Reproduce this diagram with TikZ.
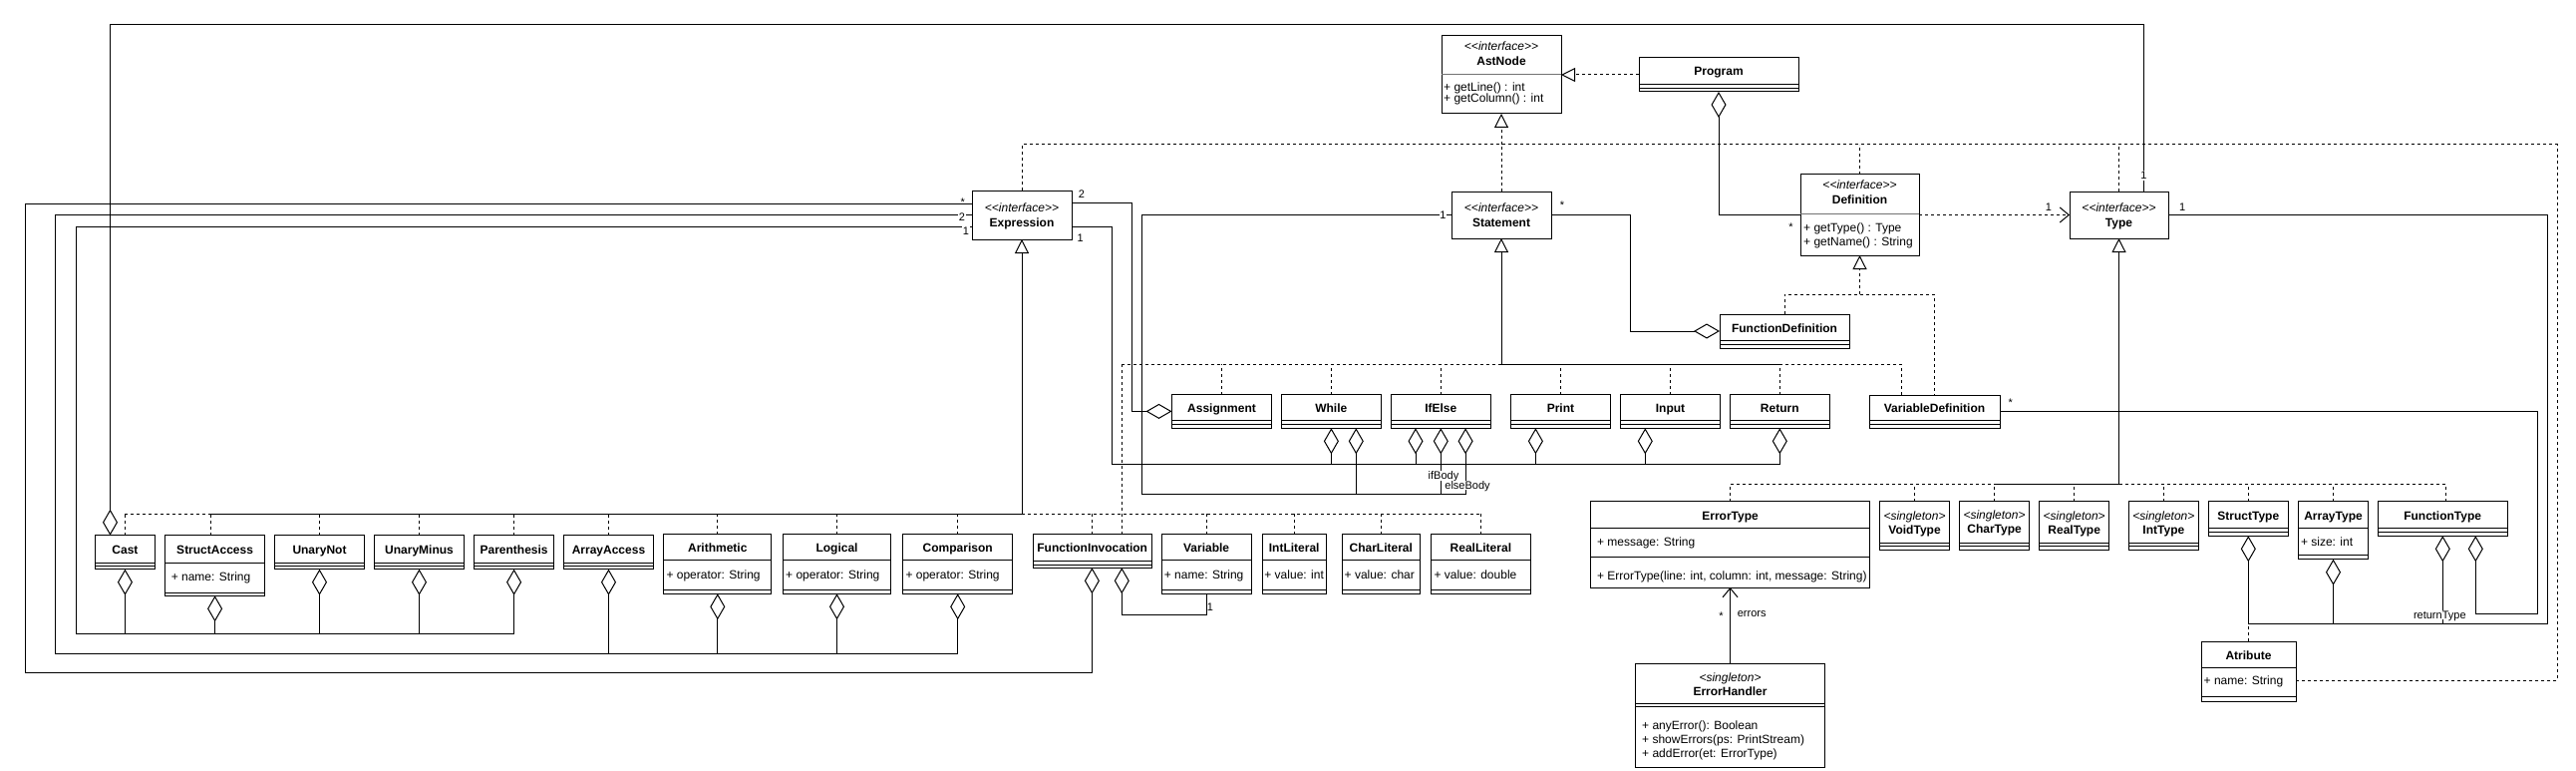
\documentclass[tikz,border=0pt]{standalone}
\usepackage{fontspec}
\setmainfont{Liberation Sans}
\usetikzlibrary{arrows.meta}
\newcommand\sll{<\kern0pt<}
\newcommand\sgg{>\kern0pt>}
\newcommand\cbox[5]{\node[box, minimum width={(#4)-(#2)}, minimum height={(#5)-(#3)}] (#1) at ({((#2)+(#4))/2},{((#3)+(#5))/2}) {};}
\newcommand\ctitle[3]{\node[nm] (#1-n) at (#1.center |- 0,#2) {#3};}
\newcommand\cster[3]{\node[st] (#1-s) at (#1.center |- 0,#2) {#3};}
\newcommand\cmem[5]{\node[mb,xshift=#3pt] (#1-#2) at (#1.west |- 0,#4) {#5};}
\newcommand\cln[2]{\draw[sepl] (#1.west |- 0,#2) -- (#1.east |- 0,#2);}
\newcommand\icln[2]{\draw[isep] (#1.west |- 0,#2) -- (#1.east |- 0,#2);}
\begin{document}
\begin{tikzpicture}[x=1pt,y=-1pt,
 box/.style={draw=black,line width=1pt,inner sep=0pt,outer sep=0pt},
 ln/.style={draw=black,line width=1pt},
 dsh/.style={draw=black,line width=1pt,dash pattern=on 3pt off 3pt},
 sepl/.style={draw=black,line width=1pt},
 isep/.style={draw=black!55,line width=1pt},
 nm/.style={inner sep=0pt,font=\fontsize{12}{14}\selectfont\bfseries,text height=8.6pt,text depth=0pt},
 st/.style={inner sep=0pt,font=\fontsize{12}{14}\selectfont\itshape,text height=8.6pt,text depth=0pt},
 mb/.style={inner sep=0pt,anchor=west,font=\fontsize{12}{14}\selectfont,text height=8.6pt,text depth=0pt},
 lb/.style={inner sep=0.8pt,font=\fontsize{11}{13}\selectfont,text height=7.9pt,text depth=0pt},
 lbw/.style={lb,fill=white},
 gen/.style={-{Triangle[open,length=14pt,width=14pt]}},
 agg/.style={{Diamond[open,length=26pt,width=15pt]}-},
 opn/.style={-{Straight Barb[length=9pt,width=15pt]}},
]
\fill[white] (0,0) rectangle (2584,773);
\useasboundingbox (0,0) rectangle (2584,773);

% ---------- class boxes ----------
\cbox{AstNode}{1446}{36}{1566}{114}
\cbox{Program}{1644}{58}{1804}{92}
\cbox{Expression}{975}{191}{1075}{240}
\cbox{Statement}{1456}{192}{1556}{239}
\cbox{Definition}{1806}{175}{1925}{256}
\cbox{Type}{2076}{192}{2175}{239}
\cbox{FunctionDefinition}{1725}{315}{1855}{349}
\cbox{VariableDefinition}{1875}{396}{2006}{429}
\cbox{Assignment}{1175.5}{395.5}{1275.5}{429.3}
\cbox{While}{1285.4}{395.5}{1385.1}{429.3}
\cbox{IfElse}{1395.2}{395.5}{1495.4}{429.3}
\cbox{Print}{1515.6}{395.5}{1615.3}{429.3}
\cbox{Input}{1625.3}{395.5}{1725.7}{429.3}
\cbox{Return}{1735.3}{395.5}{1835.3}{429.3}
\cbox{Cast}{95.5}{536.7}{155.4}{570.7}
\cbox{StructAccess}{165.6}{536.7}{265.6}{597.3}
\cbox{UnaryNot}{275.4}{536.7}{365.6}{570.7}
\cbox{UnaryMinus}{375.4}{536.7}{465.6}{570.7}
\cbox{Parenthesis}{475.4}{536.7}{555.8}{570.7}
\cbox{ArrayAccess}{565.6}{536.7}{655.4}{570.7}
\cbox{Arithmetic}{665.8}{535.7}{773.8}{595.3}
\cbox{Logical}{785.5}{535.7}{893.5}{595.3}
\cbox{Comparison}{905.8}{535.7}{1015.6}{595.3}
\cbox{FunctionInvocation}{1036.1}{535.7}{1155.3}{569.3}
\cbox{Variable}{1165.2}{535.7}{1255}{595.3}
\cbox{IntLiteral}{1266.2}{535.7}{1330.2}{595.3}
\cbox{CharLiteral}{1346}{535.7}{1424.6}{595.3}
\cbox{RealLiteral}{1435.8}{535.7}{1535}{595.3}
\cbox{ErrorType}{1595.4}{502.7}{1875.7}{589}
\cbox{VoidType}{1885.4}{502.7}{1955.7}{551.7}
\cbox{CharType}{1965.4}{502.7}{2035.7}{551.7}
\cbox{RealType}{2045.7}{502.7}{2115.7}{551.7}
\cbox{IntType}{2135.7}{502.7}{2205}{551.7}
\cbox{StructType}{2215.3}{502.7}{2295.3}{537.3}
\cbox{ArrayType}{2305.3}{502.7}{2375.7}{560.7}
\cbox{FunctionType}{2385}{502.7}{2515.3}{537.3}
\cbox{Atribute}{2208}{643.3}{2303}{703.3}
\cbox{ErrorHandler}{1640.7}{665.7}{1830.4}{769}

% ---------- class contents ----------
\cster{AstNode}{46.5}{\sll interface\sgg}
\ctitle{AstNode}{61.4}{AstNode}
\icln{AstNode}{75}
\cmem{AstNode}{a}{2}{87.3}{+ getLine() : int}
\cmem{AstNode}{b}{2}{98.3}{+ getColumn() : int}

\ctitle{Program}{71.4}{Program}
\cln{Program}{85}\cln{Program}{88.5}

\cster{Expression}{207.7}{\sll interface\sgg}
\ctitle{Expression}{222.7}{Expression}
\cster{Statement}{207.7}{\sll interface\sgg}
\ctitle{Statement}{222.7}{Statement}
\cster{Type}{207.7}{\sll interface\sgg}
\ctitle{Type}{222.7}{Type}

\cster{Definition}{185}{\sll interface\sgg}
\ctitle{Definition}{200}{Definition}
\icln{Definition}{214.3}
\cmem{Definition}{a}{3}{228}{+ getType() : Type}
\cmem{Definition}{b}{3}{241.7}{+ getName() : String}

\ctitle{FunctionDefinition}{328.7}{FunctionDefinition}
\cln{FunctionDefinition}{341.3}\cln{FunctionDefinition}{345.3}
\ctitle{VariableDefinition}{408.7}{VariableDefinition}
\cln{VariableDefinition}{421.3}\cln{VariableDefinition}{425.3}

\ctitle{Assignment}{409}{Assignment}
\cln{Assignment}{421.3}\cln{Assignment}{425.3}
\ctitle{While}{409}{While}
\cln{While}{421.3}\cln{While}{425.3}
\ctitle{IfElse}{409}{IfElse}
\cln{IfElse}{421.3}\cln{IfElse}{425.3}
\ctitle{Print}{409}{Print}
\cln{Print}{421.3}\cln{Print}{425.3}
\ctitle{Input}{409}{Input}
\cln{Input}{421.3}\cln{Input}{425.3}
\ctitle{Return}{409}{Return}
\cln{Return}{421.3}\cln{Return}{425.3}

\ctitle{Cast}{551}{Cast}
\cln{Cast}{564.7}\cln{Cast}{567.7}
\ctitle{StructAccess}{551}{StructAccess}
\cln{StructAccess}{564}
\cmem{StructAccess}{a}{6}{577.7}{+ name: String}
\cln{StructAccess}{594.2}
\ctitle{UnaryNot}{551}{UnaryNot}
\cln{UnaryNot}{564.7}\cln{UnaryNot}{567.7}
\ctitle{UnaryMinus}{551}{UnaryMinus}
\cln{UnaryMinus}{564.7}\cln{UnaryMinus}{567.7}
\ctitle{Parenthesis}{551}{Parenthesis}
\cln{Parenthesis}{564.7}\cln{Parenthesis}{567.7}
\ctitle{ArrayAccess}{551}{ArrayAccess}
\cln{ArrayAccess}{564.7}\cln{ArrayAccess}{567.7}

\ctitle{Arithmetic}{549.3}{Arithmetic}
\cln{Arithmetic}{561}
\cmem{Arithmetic}{a}{2.5}{575.7}{+ operator: String}
\cln{Arithmetic}{591.5}
\ctitle{Logical}{549.3}{Logical}
\cln{Logical}{561}
\cmem{Logical}{a}{2.5}{575.7}{+ operator: String}
\cln{Logical}{591.5}
\ctitle{Comparison}{549.3}{Comparison}
\cln{Comparison}{561}
\cmem{Comparison}{a}{2.5}{575.7}{+ operator: String}
\cln{Comparison}{591.5}

\ctitle{FunctionInvocation}{549.3}{FunctionInvocation}
\cln{FunctionInvocation}{562.5}\cln{FunctionInvocation}{566}
\ctitle{Variable}{549.3}{Variable}
\cln{Variable}{561}
\cmem{Variable}{a}{2.5}{575.7}{+ name: String}
\cln{Variable}{591.5}
\ctitle{IntLiteral}{549.3}{IntLiteral}
\cln{IntLiteral}{561}
\cmem{IntLiteral}{a}{2}{575.7}{+ value: int}
\cln{IntLiteral}{591.5}
\ctitle{CharLiteral}{549.3}{CharLiteral}
\cln{CharLiteral}{561}
\cmem{CharLiteral}{a}{2.5}{575.7}{+ value: char}
\cln{CharLiteral}{591.5}
\ctitle{RealLiteral}{549.3}{RealLiteral}
\cln{RealLiteral}{561}
\cmem{RealLiteral}{a}{2.5}{575.7}{+ value: double}
\cln{RealLiteral}{591.5}

\ctitle{ErrorType}{516.7}{ErrorType}
\cln{ErrorType}{529}
\cmem{ErrorType}{a}{6.5}{542.7}{+ message: String}
\cln{ErrorType}{558.7}
\cmem{ErrorType}{b}{6.5}{577}{+ ErrorType(line: int, column: int, message: String)}

\cster{VoidType}{516.7}{<singleton>}
\ctitle{VoidType}{531}{VoidType}
\cln{VoidType}{544}\cln{VoidType}{547.7}
\cster{CharType}{515.7}{<singleton>}
\ctitle{CharType}{530}{CharType}
\cln{CharType}{544}\cln{CharType}{547.7}
\cster{RealType}{516.7}{<singleton>}
\ctitle{RealType}{531}{RealType}
\cln{RealType}{544}\cln{RealType}{547.7}
\cster{IntType}{516.7}{<singleton>}
\ctitle{IntType}{531}{IntType}
\cln{IntType}{544}\cln{IntType}{547.7}

\ctitle{StructType}{516.7}{StructType}
\cln{StructType}{529.3}\cln{StructType}{533.3}
\ctitle{ArrayType}{516.7}{ArrayType}
\cln{ArrayType}{529.3}
\cmem{ArrayType}{a}{2.5}{543}{+ size: int}
\cln{ArrayType}{556.5}
\ctitle{FunctionType}{516.7}{FunctionType}
\cln{FunctionType}{529.3}\cln{FunctionType}{533.3}

\ctitle{Atribute}{656.7}{Atribute}
\cln{Atribute}{669.3}
\cmem{Atribute}{a}{2.5}{682.3}{+ name: String}
\cln{Atribute}{698.7}

\cster{ErrorHandler}{679}{<singleton>}
\ctitle{ErrorHandler}{692.7}{ErrorHandler}
\cln{ErrorHandler}{705}\cln{ErrorHandler}{708.3}
\cmem{ErrorHandler}{a}{6.3}{726.7}{+ anyError(): Boolean}
\cmem{ErrorHandler}{b}{6.3}{740.7}{+ showErrors(ps: PrintStream)}
\cmem{ErrorHandler}{c}{6.3}{755}{+ addError(et: ErrorType)}

% ---------- bus coordinates ----------
\coordinate (busA) at (0,145);
\coordinate (busE) at (0,515);
\coordinate (busS) at (0,365);
\coordinate (busD) at (0,295.3);
\coordinate (busT) at (0,485.3);

% ---------- realization of AstNode ----------
\draw[dsh,gen] (Program.west) -- (AstNode.east);
\draw[dsh,gen] (AstNode.south |- busA) -- (AstNode.south);
\draw[dsh] (Expression.north) -- (Expression.north |- busA) -- (busA -| 2565,0) -- (2565,682.3) -- (Atribute.east |- 0,682.3);
\draw[dsh] (Statement.north) -- (Statement.north |- busA);
\draw[dsh] (Definition.north) -- (Definition.north |- busA);
\draw[dsh] (Type.north) -- (Type.north |- busA);

% ---------- Expression hierarchy ----------
\draw[ln,gen] (Expression.south |- busE) -- (Expression.south);
\draw[dsh] (busE -| Cast.north) -- (busE -| 211.2,0);
\draw[ln] (busE -| 211.2,0) -- (busE -| Expression.south);
\draw[dsh] (busE -| Expression.south) -- (busE -| RealLiteral.north);
\draw[dsh] (Cast.north) -- (busE -| Cast.north);
\draw[dsh] (StructAccess.north -| 211.2,0) -- (busE -| 211.2,0);
\draw[dsh] (UnaryNot.north) -- (busE -| UnaryNot.north);
\draw[dsh] (UnaryMinus.north) -- (busE -| UnaryMinus.north);
\draw[dsh] (Parenthesis.north) -- (busE -| Parenthesis.north);
\draw[dsh] (ArrayAccess.north) -- (busE -| ArrayAccess.north);
\draw[dsh] (Arithmetic.north) -- (busE -| Arithmetic.north);
\draw[dsh] (Logical.north) -- (busE -| Logical.north);
\draw[dsh] (Comparison.north) -- (busE -| Comparison.north);
\draw[dsh] (FunctionInvocation.north -| 1095.4,0) -- (busE -| 1095.4,0);
\draw[dsh] (Variable.north) -- (busE -| Variable.north);
\draw[dsh] (IntLiteral.north) -- (busE -| IntLiteral.north);
\draw[dsh] (CharLiteral.north) -- (busE -| CharLiteral.north);
\draw[dsh] (RealLiteral.north) -- (busE -| RealLiteral.north);

% ---------- Statement hierarchy ----------
\draw[ln,gen] (Statement.south |- busS) -- (Statement.south);
\draw[dsh] (busS -| 1125.3,0) -- (busS -| Statement.south);
\draw[ln] (busS -| Statement.south) -- (busS -| Return.north);
\draw[dsh] (busS -| Return.north) -- (busS -| 1907.7,0);
\draw[dsh] (FunctionInvocation.north -| 1125.3,0) -- (busS -| 1125.3,0);
\draw[dsh] (Assignment.north) -- (busS -| Assignment.north);
\draw[dsh] (While.north) -- (busS -| While.north);
\draw[dsh] (IfElse.north) -- (busS -| IfElse.north);
\draw[dsh] (Print.north) -- (busS -| Print.north);
\draw[dsh] (Input.north) -- (busS -| Input.north);
\draw[dsh] (Return.north) -- (busS -| Return.north);
\draw[dsh] (VariableDefinition.north -| 1907.7,0) -- (busS -| 1907.7,0);

% ---------- Definition hierarchy ----------
\draw[dsh,gen] (Definition.south |- busD) -- (Definition.south);
\draw[dsh] (FunctionDefinition.north) -- (busD -| FunctionDefinition.north) -- (busD -| VariableDefinition.north) -- (VariableDefinition.north);

% ---------- Type hierarchy ----------
\draw[ln,gen] (Type.south |- busT) -- (Type.south);
\draw[dsh] (ErrorType.north) -- (busT -| ErrorType.north) -- (busT -| CharType.north);
\draw[ln] (busT -| CharType.north) -- (busT -| Type.south);
\draw[dsh] (busT -| Type.south) -- (busT -| 2453.3,0);
\draw[dsh] (VoidType.north) -- (busT -| VoidType.north);
\draw[dsh] (CharType.north) -- (busT -| CharType.north);
\draw[dsh] (RealType.north) -- (busT -| RealType.north);
\draw[dsh] (IntType.north) -- (busT -| IntType.north);
\draw[dsh] (StructType.north) -- (busT -| StructType.north);
\draw[dsh] (ArrayType.north) -- (busT -| ArrayType.north);
\draw[dsh] (FunctionType.north -| 2453.3,0) -- (busT -| 2453.3,0);

% ---------- dependencies / associations ----------
\draw[dsh,opn] (Definition.east) -- (Type.west);
\draw[ln,agg] (Program.south) -- (Program.south |- Definition.west) -- (Definition.west);
\draw[ln,agg] (FunctionDefinition.west) -- (FunctionDefinition.west -| 1635.6,0) -- (Statement.east -| 1635.6,0) -- (Statement.east);

% arguments (*)
\draw[ln,agg] (FunctionInvocation.south -| 1095.4,0) -- (1095.4,674.3) -- (25.5,674.3) -- (25.5,204) -- (Expression.west |- 0,204);
% binary (2)
\draw[ln,agg] (Comparison.south) -- (Comparison.south |- 0,655) -- (55.5,655) -- (55.5,215.5) -- (Expression.west);
\draw[ln,agg] (ArrayAccess.south) -- (ArrayAccess.south |- 0,655);
\draw[ln,agg] (Arithmetic.south) -- (Arithmetic.south |- 0,655);
\draw[ln,agg] (Logical.south) -- (Logical.south |- 0,655);
% unary (1)
\draw[ln,agg] (Parenthesis.south) -- (Parenthesis.south |- 0,635) -- (76.2,635) -- (76.2,227.7) -- (Expression.west |- 0,227.7);
\draw[ln,agg] (Cast.south) -- (Cast.south |- 0,635);
\draw[ln,agg] (StructAccess.south) -- (StructAccess.south |- 0,635);
\draw[ln,agg] (UnaryNot.south) -- (UnaryNot.south |- 0,635);
\draw[ln,agg] (UnaryMinus.south) -- (UnaryMinus.south |- 0,635);
% assignment (2)
\draw[ln,agg] (Assignment.west) -- (Assignment.west -| 1135.4,0) -- (1135.4,203.7) -- (Expression.east |- 0,203.7);
% statement expressions (1)
\draw[ln,agg] (Return.south) -- (Return.south |- 0,465) -- (1115.7,465) -- (1115.7,227.7) -- (Expression.east |- 0,227.7);
\draw[ln,agg] (While.south -| 1335.4,0) -- (1335.4,465);
\draw[ln,agg] (IfElse.south -| 1420,0) -- (1420,465);
\draw[ln,agg] (Print.south -| 1540.4,0) -- (1540.4,465);
\draw[ln,agg] (Input.south -| 1650.3,0) -- (1650.3,465);
% statement bodies (1)
\draw[ln,agg] (IfElse.south -| 1470.1,0) -- (1470.1,495) -- (1145.2,495) -- (1145.2,215.5) -- (Statement.west);
\draw[ln,agg] (While.south -| 1360.3,0) -- (1360.3,495);
\draw[ln,agg] (IfElse.south) -- (IfElse.south |- 0,495);
% cast type
\draw[ln,agg] (Cast.north -| 110.5,0) -- (110.5,25) -- (2150.5,25) -- (Type.north -| 2150.5,0);
% type composition
\draw[ln,agg] (StructType.south) -- (StructType.south |- 0,625) -- (2555.3,625) -- (2555.3,215.5) -- (Type.east);
\draw[ln,agg] (ArrayType.south) -- (ArrayType.south |- 0,625);
\draw[ln,agg] (FunctionType.south -| 2450.3,0) -- (2450.3,625);
\draw[dsh] (Atribute.north) -- (Atribute.north |- 0,625);
% parameters
\draw[ln,agg] (FunctionType.south -| 2483.3,0) -- (2483.3,615) -- (2545.3,615) -- (2545.3,412.5) -- (VariableDefinition.east);
% function invocation name
\draw[ln,agg] (FunctionInvocation.south -| 1125.3,0) -- (1125.3,616.7) -- (Variable.south |- 0,616.7) -- (Variable.south);
% errors
\draw[ln,opn] (ErrorHandler.north) -- (ErrorType.south);

% ---------- labels ----------
\node[lbw] (l1) at (2150.5,176) {1};
\node[lb] (l2) at (2189.2,207.7) {1};
\node[lb] (l3) at (2055,207.7) {1};
\node[lb] (l4) at (1796.5,227.5) {*};
\node[lb] (l5) at (1567,205.5) {*};
\node[lb] (l6) at (965.8,203) {*};
\node[lbw] (l7) at (965,217.3) {2};
\node[lbw] (l8) at (968.9,232) {1};
\node[lb] (l9) at (1084.8,195) {2};
\node[lb] (l10) at (1083.7,238.7) {1};
\node[lbw] (l11) at (1447.5,216) {1};
\node[lb] (l12) at (2016.7,404) {*};
\node[lb] (l13) at (1214,608.3) {1};
\node[lbw] (l14) at (1448,477) {ifBody};
\node[lbw] (l15) at (1472,486.3) {elseBody};
\node[lbw] (l16) at (2447.3,616.7) {returnType};
\node[lb] (l17) at (1726.4,617.5) {*};
\node[lb,anchor=west] (l18) at (1741.8,615) {errors};
\end{tikzpicture}
\end{document}
